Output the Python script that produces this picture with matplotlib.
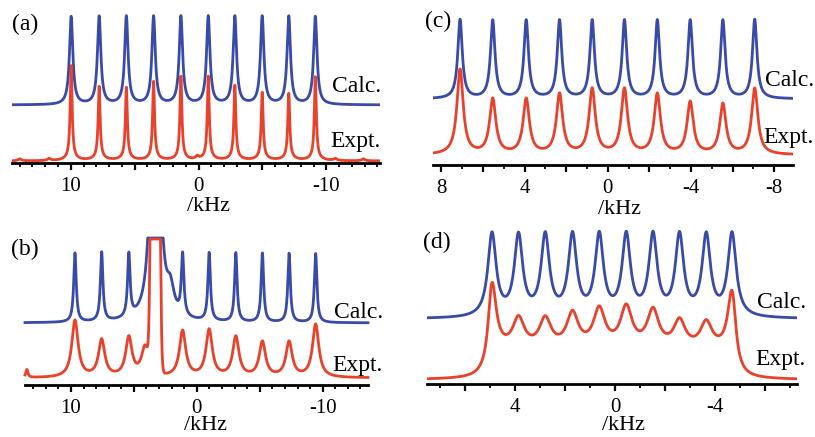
import matplotlib
matplotlib.use("Agg")
import matplotlib.pyplot as plt
import numpy as np
from matplotlib.ticker import MultipleLocator, FuncFormatter

plt.rcParams["font.family"] = ["Liberation Serif", "DejaVu Serif"]

BLUE = "#3a4aa8"
RED = "#e8412c"

# ---- peak tables: position (kHz), amplitude (px above trace baseline) ----
# (a)
a_peaks = [9.97, 7.78, 5.65, 3.52, 1.38, -0.76, -2.84, -4.98, -7.06, -9.14]
a_calc = [88, 88, 88, 88, 88, 88, 88, 88, 88, 88]
a_expt = [92, 71, 70, 76, 81, 81, 72, 65, 64, 81]
a_extra_pos = [14.0, 11.7, 0.1, -10.7, -12.9]
a_extra_h = [2, 2, 3, 2, 2]

# (b)
b_peaks = [9.68, 7.56, 5.40, 1.13, -0.98, -3.10, -5.21, -7.33, -9.44]
b_calc = [69, 69, 63, 61, 68, 69, 69, 69, 69]
b_expt = [57, 37, 39, 46, 47, 40, 35, 35, 53]
b_center = 3.3
b_center_calc = 1445
b_center_expt = 2000
b_shoulder_pos = [2.1, 4.1]
b_shoulder_calc = [25, 0]
b_shoulder_expt = [0, 30]
b_extra_pos = [13.5]
b_extra_h = [8]

# (c)
c_peaks = [7.10, 5.53, 3.92, 2.32, 0.75, -0.80, -2.38, -3.96, -5.53, -7.06]
c_calc = [79, 78, 78, 78, 78, 78, 78, 78, 78, 79]
c_expt = [85, 55, 55, 60, 65, 65, 60, 52, 50, 66]

# (d)
d_peaks = [4.93, 3.87, 2.80, 1.71, 0.64, -0.44, -1.51, -2.57, -3.64, -4.67]
d_calc = [83, 80, 80, 80, 80, 80, 80, 80, 80, 83]
d_expt = [71, 30, 29, 34, 38, 40, 37, 27, 26, 63]
d_expt_width = [0.2, 0.28, 0.28, 0.28, 0.28, 0.28, 0.28, 0.28, 0.28, 0.2]
d_plateau = 30
d_plateau_edges = [-4.8, 5.05]

W, H = 815, 437
LW = 2.0


def lorentz(x, centers, heights, gamma):
    x = np.asarray(x)[:, None]
    c = np.asarray(centers)[None, :]
    h = np.asarray(heights)[None, :]
    g = np.broadcast_to(np.asarray(gamma, dtype=float), c.shape[1:])[None, :]
    return (h * g**2 / ((x - c) ** 2 + g**2)).sum(axis=1)


def add_panel(fig, left, right, axis_y, top, xlim, major, minor, label_step):
    ax = fig.add_axes([left / W, 1 - axis_y / H, (right - left) / W, (axis_y - top) / H])
    ax.set_xlim(*xlim)
    ax.set_ylim(0, axis_y - top)
    for side in ["left", "right", "top"]:
        ax.spines[side].set_visible(False)
    ax.spines["bottom"].set_linewidth(2.0)
    ax.set_yticks([])
    ax.xaxis.set_major_locator(MultipleLocator(major))
    ax.xaxis.set_minor_locator(MultipleLocator(minor))
    ax.xaxis.set_major_formatter(
        FuncFormatter(lambda v, p: f"{int(round(v))}" if round(v) % label_step == 0 else "")
    )
    ax.tick_params(axis="x", which="major", length=5, width=1.6, direction="out",
                   labelsize=15, pad=5)
    ax.tick_params(axis="x", which="minor", length=3, width=1.3, direction="out")
    ax.patch.set_alpha(0)
    return ax


def labels(fig, tag, tag_xy, right_x, calc_y, expt_y, unit_xy):
    fig.text(tag_xy[0] / W, 1 - tag_xy[1] / H, tag, fontsize=17, ha="center", va="center")
    fig.text(right_x / W, 1 - calc_y / H, "Calc.", fontsize=17, ha="right", va="center")
    fig.text(right_x / W, 1 - expt_y / H, "Expt.", fontsize=17, ha="right", va="center")
    fig.text(unit_xy[0] / W, 1 - unit_xy[1] / H, "/kHz", fontsize=16, ha="center", va="center")


fig = plt.figure(figsize=(W / 100, H / 100), dpi=100)

# (a)
ax = add_panel(fig, 12, 380, 163, 5, (14.6, -14.2), 5, 1, 10)
x = np.linspace(14.6, -14.2, 4000)
calc = 58 + lorentz(x, a_peaks, a_calc, 0.16)
expt = (2 + lorentz(x, a_peaks, a_expt, 0.09)
        + lorentz(x, a_peaks, [3] * len(a_peaks), 0.5)
        + lorentz(x, a_extra_pos, a_extra_h, 0.15))
ax.plot(x, calc, color=BLUE, lw=LW)
ax.plot(x, expt, color=RED, lw=LW)
labels(fig, "(a)", (25, 24), 381, 87, 142, (208, 207))

# (c)
ax = add_panel(fig, 433, 793, 165, 5, (8.4, -8.9), 2, 1, 4)
x = np.linspace(8.4, -8.9, 4000)
calc = 66 + lorentz(x, c_peaks, c_calc, 0.13)
expt = 10 + lorentz(x, c_peaks, c_expt, 0.18)
ax.plot(x, calc, color=BLUE, lw=LW)
ax.plot(x, expt, color=RED, lw=LW)
labels(fig, "(c)", (438, 21), 814, 81, 137, (620, 209))

# (b)
clip = 147
ax = add_panel(fig, 25, 368, 385, 235, (13.65, -13.6), 5, 1, 10)
x = np.linspace(13.65, -13.6, 4000)
calc = (62 + lorentz(x, b_peaks, b_calc, 0.12)
        + lorentz(x, [b_center], [b_center_calc], 0.15)
        + lorentz(x, b_shoulder_pos, b_shoulder_calc, 0.35))
expt = (7 + lorentz(x, b_peaks, b_expt, 0.3)
        + b_center_expt * np.exp(-((x - b_center) ** 2) / (2 * 0.18**2))
        + lorentz(x, b_shoulder_pos, b_shoulder_expt, 0.35)
        + lorentz(x, b_extra_pos, b_extra_h, 0.1))
ax.plot(x, np.minimum(calc, clip), color=BLUE, lw=LW, clip_on=False)
ax.plot(x, np.minimum(expt, clip - 1), color=RED, lw=LW, clip_on=False)
labels(fig, "(b)", (25, 249), 383, 313, 366, (206, 426))

# (d)
ax = add_panel(fig, 427, 797, 384, 225, (7.53, -7.27), 2, 1, 4)
x = np.linspace(7.53, -7.27, 4000)
lo, hi = d_plateau_edges
plateau = d_plateau / np.pi * (np.arctan((hi - x) / 0.1) - np.arctan((lo - x) / 0.1))
calc = 65 + lorentz(x, d_peaks, d_calc, 0.2)
expt = 4 + plateau + lorentz(x, d_peaks, d_expt, d_expt_width)
ax.plot(x, calc, color=BLUE, lw=LW)
ax.plot(x, expt, color=RED, lw=LW)
labels(fig, "(d)", (437, 242), 806, 303, 360, (623, 426))

fig.savefig("out.png", dpi=100)
